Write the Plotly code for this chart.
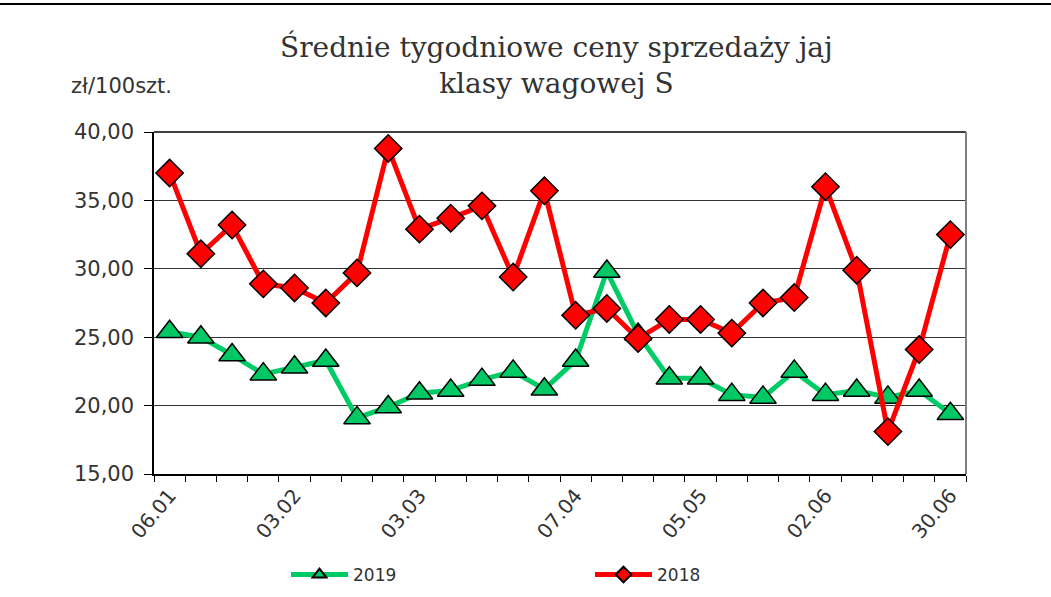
import plotly.graph_objects as go

weeks = ["06.01", "13.01", "20.01", "27.01", "03.02", "10.02", "17.02", "24.02",
         "03.03", "10.03", "17.03", "24.03", "31.03", "07.04", "14.04", "21.04",
         "28.04", "05.05", "12.05", "19.05", "26.05", "02.06", "09.06", "16.06",
         "23.06", "30.06"]
label_weeks = ["06.01", "03.02", "03.03", "07.04", "05.05", "02.06", "30.06"]

prices_2019 = [25.4, 25.0, 23.7, 22.3, 22.8, 23.3, 19.1, 19.9, 20.9, 21.1, 21.9, 22.5, 21.2,
               23.3, 29.8, 25.2, 22.0, 22.0, 20.8, 20.6, 22.5, 20.8, 21.1, 20.6, 21.1, 19.4]
prices_2018 = [37.0, 31.1, 33.2, 28.9, 28.6, 27.5, 29.7, 38.8, 32.9, 33.7, 34.6, 29.4, 35.7,
               26.6, 27.1, 24.9, 26.3, 26.3, 25.3, 27.5, 27.9, 36.0, 29.9, 18.1, 24.1, 32.5]

x_idx = list(range(len(weeks)))
tick_idx = [weeks.index(w) for w in label_weeks]

SANS = "DejaVu Sans, Liberation Sans, Arial, sans-serif"

fig = go.Figure()
fig.add_trace(go.Scatter(
    x=x_idx, y=prices_2019, name="2019", mode="lines+markers",
    line=dict(color="#00CC66", width=5),
    marker=dict(symbol="triangle-up", size=23, color="#00C864",
                line=dict(color="#000000", width=1.5)),
))
fig.add_trace(go.Scatter(
    x=x_idx, y=prices_2018, name="2018", mode="lines+markers",
    line=dict(color="#FF0000", width=5),
    marker=dict(symbol="diamond", size=21, color="#FF0000",
                line=dict(color="#000000", width=1.5)),
))

L, R, T, B = 154, 85, 132, 123
W, H = 1051, 597
pw, ph = W - L - R, H - T - B

fig.update_layout(
    width=W, height=H,
    margin=dict(l=L, r=R, t=T, b=B, autoexpand=False),
    paper_bgcolor="white", plot_bgcolor="white",
    separators=", ",
    font=dict(family=SANS, color="#333333"),
    showlegend=True,
    legend=dict(orientation="h", xref="container", yref="container",
                x=286 / W, xanchor="left",
                y=1 - 575 / H, yanchor="middle",
                font=dict(size=17, color="#333333"),
                itemwidth=57, entrywidth=232, entrywidthmode="pixels",
                itemsizing="constant", bgcolor="rgba(0,0,0,0)"),
    xaxis=dict(range=[-0.5, len(weeks) - 0.5], tickmode="array",
               tickvals=tick_idx, ticktext=label_weeks, tickangle=-50,
               ticks="outside", ticklen=0, showgrid=False, zeroline=False,
               showline=True, linecolor="#000000", linewidth=1.5, automargin=False,
               tickfont=dict(size=20, color="#333333"),
               minor=dict(tickmode="linear", tick0=-0.5, dtick=1, ticks="outside",
                          ticklen=6, tickcolor="#000000", tickwidth=1, showgrid=False)),
    yaxis=dict(range=[15, 40], dtick=5, tick0=15, tickformat=".2f",
               ticks="outside", ticklen=8, tickcolor="#000000",
               showgrid=True, gridcolor="#333333", gridwidth=1, zeroline=False,
               showline=True, linecolor="#000000", linewidth=1.5, automargin=False,
               tickfont=dict(size=21, color="#333333"), ticklabelstandoff=6),
    annotations=[
        dict(text="Średnie tygodniowe ceny sprzedaży jaj<br>klasy wagowej S",
             xref="paper", yref="paper", x=(556 - L) / pw, y=1 + (T - 65) / ph,
             xanchor="center", yanchor="middle", showarrow=False,
             font=dict(family="DejaVu Serif, Liberation Serif, serif", size=28,
                       color="#333333")),
        dict(text="zł/100szt.", xref="paper", yref="paper",
             x=(69 - L) / pw, y=1 + (T - 86) / ph, xanchor="left", yanchor="middle",
             showarrow=False, font=dict(size=21, color="#333333")),
    ],
    shapes=[
        dict(type="line", xref="paper", yref="paper", x0=-1, x1=2,
             y0=1 + (T - 4) / ph, y1=1 + (T - 4) / ph,
             line=dict(color="#000000", width=2)),
        dict(type="line", xref="paper", yref="paper", x0=0, x1=1, y0=1, y1=1,
             line=dict(color="#000000", width=1.5)),
        dict(type="line", xref="paper", yref="paper", x0=1, x1=1, y0=0, y1=1,
             line=dict(color="#808080", width=2)),
    ],
)

fig.write_html("out.html", config={"displayModeBar": False},
               post_script="document.body.style.margin='0';")
